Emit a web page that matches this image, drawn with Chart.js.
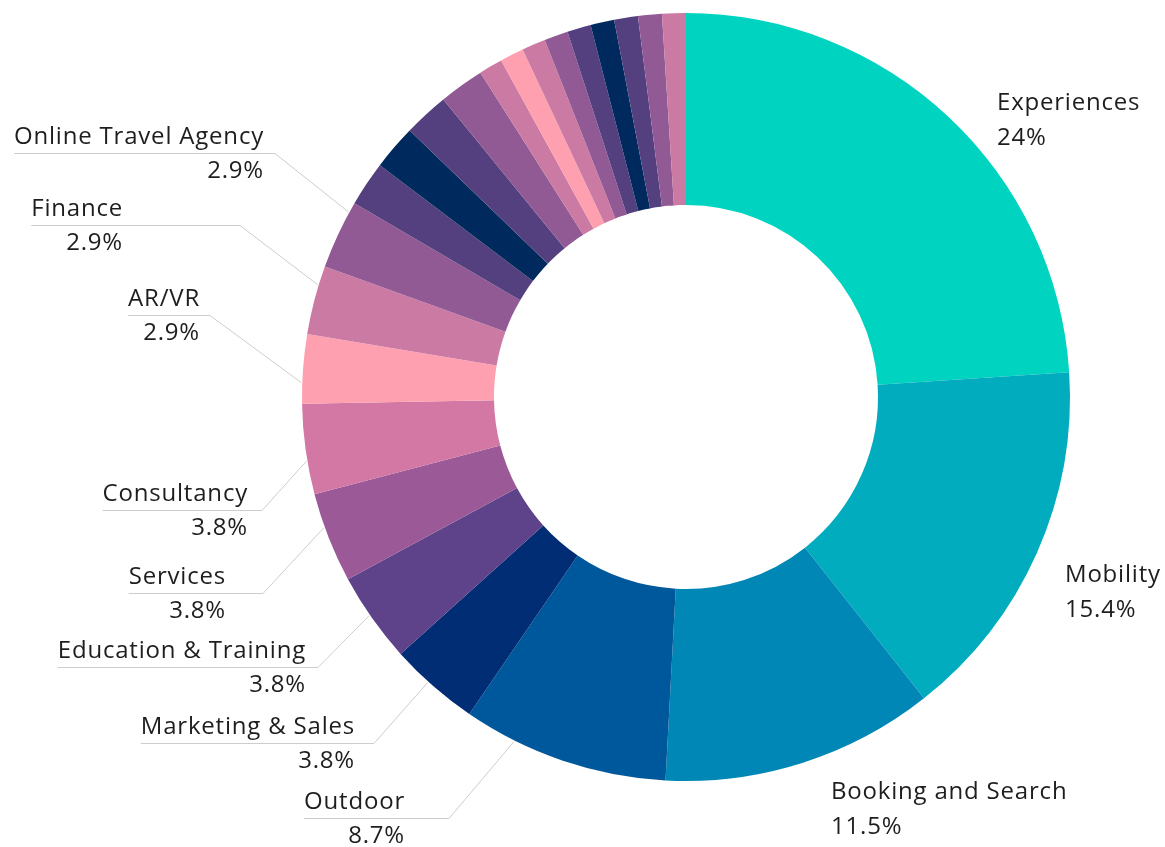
<!DOCTYPE html>
<html>
<head>
<meta charset="utf-8">
<title>Startups by category</title>
<script src="https://cdn.jsdelivr.net/npm/chart.js@4.4.1/dist/chart.umd.min.js"></script>
<style>
    html, body { margin: 0; padding: 0; background: #fff; }
    #wrap { width: 1165px; height: 847px; position: relative; }
</style>
</head>
<body>
<div id="wrap"><canvas id="categoryChart"></canvas></div>
<script>
// Categories, clockwise from 12 o'clock
const categories = [
    'Experiences', 'Mobility', 'Booking and Search', 'Outdoor',
    'Marketing & Sales', 'Education & Training', 'Services', 'Consultancy',
    'AR/VR', 'Finance', 'Online Travel Agency',
    'Hospitality', 'Payments', 'Sustainability', 'Data & Analytics',
    'Accommodation', 'Events', 'Food & Beverage', 'Health & Wellness',
    'Insurance', 'Language', 'Loyalty', 'Marketplace', 'Security'
];

// Share of startups (%)
const shares = [
    24, 15.4, 11.5, 8.7,
    3.8, 3.8, 3.8, 3.8,
    2.9, 2.9, 2.9,
    1.9, 1.9, 1.9, 1.9,
    1, 1, 1, 1, 1, 1, 1, 1, 1
];

// Which categories get a printed label
const labelled = [
    'Experiences', 'Mobility', 'Booking and Search', 'Outdoor',
    'Marketing & Sales', 'Education & Training', 'Services', 'Consultancy',
    'AR/VR', 'Finance', 'Online Travel Agency'
];

const sliceColors = [
    '#00d4c0', '#00acbe', '#0087b5', '#00589c',
    '#002d74', '#5e428a', '#9b5a97', '#d378a4',
    '#ffa0b0', '#cb7aa3', '#925a94',
    '#54407e', '#002a5e', '#54407e', '#925a94',
    '#cb7aa3', '#ffa0b0', '#cb7aa3', '#925a94',
    '#54407e', '#002a5e', '#54407e', '#925a94', '#cb7aa3'
];

// Label placement, offsets from the donut centre (px)
// left side: y of the rule line, right edge of text, x of the elbow,
//            and how far along the slice the leader line lands (0..1)
// right side: left edge of text, y of the name
const labelLayout = {
    'Experiences':          { side: 'right', left: 311, y: -296 },
    'Mobility':             { side: 'right', left: 379, y: 176 },
    'Booking and Search':   { side: 'right', left: 145, y: 393 },
    'Outdoor':              { side: 'left', y: 421, textRight: -281, elbow: -237, at: 0.75 },
    'Marketing & Sales':    { side: 'left', y: 346, textRight: -331, elbow: -312, at: 0.57 },
    'Education & Training': { side: 'left', y: 270, textRight: -380, elbow: -368, at: 0.54 },
    'Services':             { side: 'left', y: 196, textRight: -460, elbow: -423, at: 0.62 },
    'Consultancy':          { side: 'left', y: 113, textRight: -438, elbow: -424, at: 0.37 },
    'AR/VR':                { side: 'left', y: -82, textRight: -486, elbow: -476, at: 0.3 },
    'Finance':              { side: 'left', y: -172, textRight: -563, elbow: -446, at: 0.72 },
    'Online Travel Agency': { side: 'left', y: -244, textRight: -422, elbow: -411, at: 0.85 }
};

const FONT = '24px "Open Sans", "Noto Sans", sans-serif';
const TEXT_COLOR = '#1e1e1e';
const LINE_COLOR = '#cdcdcd';

// Draw names, percentages and leader lines
const sliceLabels = {
    id: 'sliceLabels',
    afterDatasetsDraw(chart) {
        const ctx = chart.ctx;
        const meta = chart.getDatasetMeta(0);
        ctx.save();
        ctx.font = FONT;
        ctx.letterSpacing = '0.8px';
        ctx.fillStyle = TEXT_COLOR;
        ctx.textBaseline = 'middle';

        meta.data.forEach((arc, i) => {
            const name = categories[i];
            if (!labelled.includes(name)) return;
            const spot = labelLayout[name];
            const p = arc.getProps(['x', 'y', 'startAngle', 'endAngle', 'outerRadius'], true);
            const cx = p.x, cy = p.y;
            const pct = shares[i] + '%';

            if (spot.side === 'right') {
                ctx.textAlign = 'left';
                ctx.fillText(name, cx + spot.left, cy + spot.y + 2);
                ctx.fillText(pct, cx + spot.left, cy + spot.y + 37);
                return;
            }

            const hit = p.startAngle + (p.endAngle - p.startAngle) * spot.at;
            const ax = cx + Math.cos(hit) * (p.outerRadius + 1);
            const ay = cy + Math.sin(hit) * (p.outerRadius + 1);
            const lineY = cy + spot.y;
            const right = cx + spot.textRight;
            const nameW = ctx.measureText(name).width;

            ctx.strokeStyle = LINE_COLOR;
            ctx.lineWidth = 1;
            ctx.beginPath();
            ctx.moveTo(right - nameW, lineY + 0.5);
            ctx.lineTo(cx + spot.elbow, lineY + 0.5);
            ctx.lineTo(ax, ay);
            ctx.stroke();

            ctx.textAlign = 'right';
            ctx.fillText(name, right, lineY - 16);
            ctx.fillText(pct, right, lineY + 18);
        });
        ctx.restore();
    }
};

const ctx = document.getElementById('categoryChart').getContext('2d');
new Chart(ctx, {
    type: 'doughnut',
    data: {
        labels: categories,
        datasets: [{
            data: shares,
            backgroundColor: sliceColors,
            borderWidth: 0
        }]
    },
    options: {
        responsive: true,
        maintainAspectRatio: false,
        animation: false,
        cutout: '50%',
        layout: {
            padding: { top: 13, bottom: 66, left: 302, right: 95 }
        },
        plugins: {
            legend: { display: false },
            tooltip: { enabled: false }
        }
    },
    plugins: [sliceLabels]
});
</script>
</body>
</html>
